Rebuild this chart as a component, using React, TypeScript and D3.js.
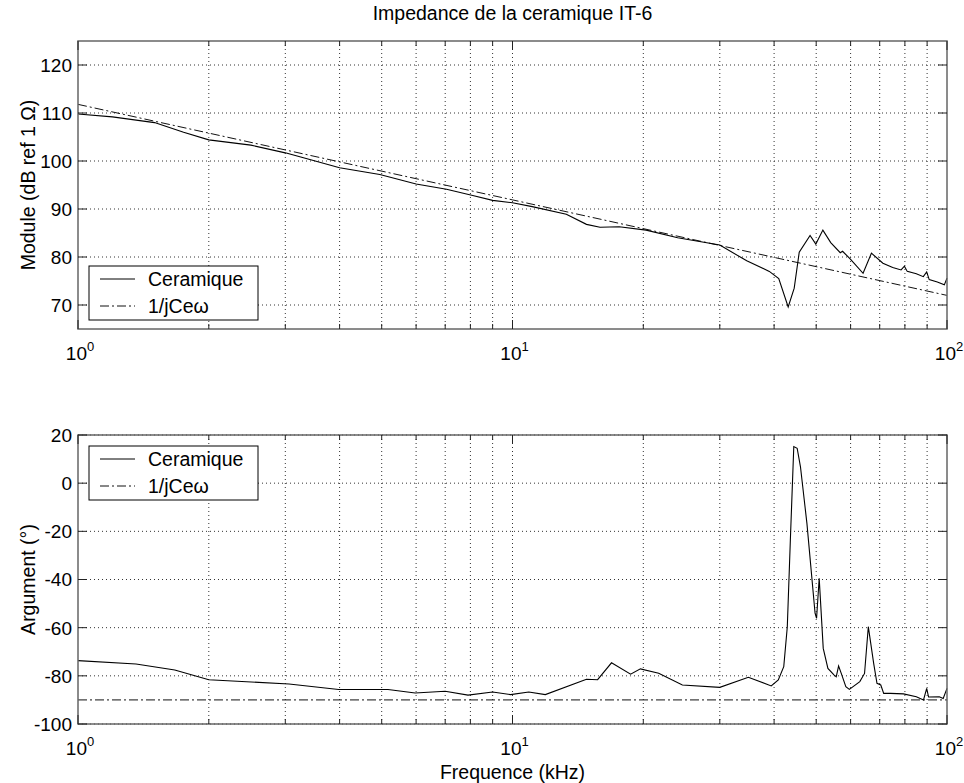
import React from "react";
import * as d3 from "d3";

// frequences (kHz) et module de la ceramique (dB ref 1 ohm)
const modFreq = [1.0, 1.2, 1.5, 1.75, 2.0, 2.5, 3.0, 3.24, 4.0, 4.95, 6.0, 7.05, 8.1, 9.0, 10.0, 11.1, 13.3, 14.8, 15.9, 17.6, 20.3, 24, 30, 34.6, 39.0, 41.0, 43.1, 44.5, 45.7, 48.4, 49.9, 51.8, 54, 56.8, 57.5, 60, 64.1, 67.0, 71.2, 75, 78.4, 79.8, 81, 85, 88.2, 89.8, 91, 95, 98.6, 100];
const modCeramique = [109.8, 109.2, 108.0, 106.0, 104.4, 103.3, 101.7, 100.9, 98.6, 97.2, 95.2, 94.1, 92.8, 91.8, 91.3, 90.5, 88.9, 86.8, 86.2, 86.3, 85.6, 84.0, 82.5, 79.2, 77.0, 75.5, 69.6, 73.5, 81.0, 84.5, 82.7, 85.6, 83.0, 80.9, 81.2, 79.5, 76.6, 80.8, 78.7, 77.8, 77.3, 78.1, 77.0, 76.5, 75.9, 76.9, 75.3, 74.8, 74.2, 75.6];

// argument de la ceramique (degres)
const argFreq = [1.0, 1.36, 1.67, 2.0, 3.06, 3.98, 5.17, 5.97, 7.0, 7.9, 9.0, 9.9, 10.9, 11.9, 14.8, 15.7, 16.9, 18.7, 19.7, 21.7, 24.6, 30.0, 34.9, 39.4, 40.9, 42.1, 42.9, 43.6, 44.4, 45.2, 46.0, 47.6, 49.7, 50.1, 50.8, 51.9, 53.2, 55.0, 55.6, 56.3, 57.1, 58.5, 59.6, 63.0, 64.6, 65.9, 67.8, 69.0, 70.4, 71.5, 74.1, 79.4, 85.0, 88.3, 89.8, 90.7, 96.0, 98.0, 100];
const argCeramique = [-73.7, -75.1, -77.6, -81.6, -83.4, -85.7, -85.7, -87.1, -86.4, -88.0, -86.7, -87.8, -86.7, -87.8, -81.4, -81.6, -74.6, -79.3, -77.1, -78.9, -83.8, -84.8, -80.6, -84.2, -81.7, -76.2, -59.6, -23.6, 15.2, 14.5, 6.8, -16.7, -54.0, -56.1, -39.5, -68.6, -76.9, -79.7, -80.4, -75.9, -79.0, -84.5, -85.6, -82.4, -79.0, -59.6, -74.8, -83.1, -83.8, -87.3, -87.3, -87.5, -88.7, -90.0, -85.2, -88.8, -88.7, -89.4, -85.2];

// modele capacitif 1/jCe.w
const ceFreq = [1, 10, 100];
const ceModule = [111.8, 91.9, 72.0];
const ceArgument = [-90, -90, -90];

const moduleTicks = [70, 80, 90, 100, 110, 120];
const argumentTicks = [-100, -80, -60, -40, -20, 0, 20];
const decadeTicks = [1, 10, 100];
const decadeLabels = ["0", "1", "2"];
const minorTicks = [2, 3, 4, 5, 6, 7, 8, 9, 20, 30, 40, 50, 60, 70, 80, 90];

const W = 964;
const H = 783;
const left = 78;
const right = 947;
const font = "Liberation Sans, Arial, sans-serif";

const x = d3.scaleLog().domain([1, 100]).range([left, right]);

type PanelProps = {
  top: number;
  bottom: number;
  domain: [number, number];
  yTicks: number[];
  ylabel: string;
  ceramX: number[];
  ceramY: number[];
  ceY: number[];
  legendTop: number;
};

const Panel = ({ top, bottom, domain, yTicks, ylabel, ceramX, ceramY, ceY, legendTop }: PanelProps) => {
  const y = d3.scaleLinear().domain(domain).range([bottom, top]);
  const line = d3
    .line<[number, number]>()
    .x((d) => x(d[0]))
    .y((d) => y(d[1]));
  const ceram = line(ceramX.map((f, i) => [f, ceramY[i]] as [number, number])) || "";
  const ce = line(ceFreq.map((f, i) => [f, ceY[i]] as [number, number])) || "";
  const grid = "#333";
  const tickCol = "#222";
  const lg = { x: 89, w: 169, h: 54 };

  return (
    <g>
      {/* grille */}
      {[...minorTicks, 10].map((f) => (
        <line key={"gx" + f} x1={x(f)} x2={x(f)} y1={top} y2={bottom} stroke={grid} strokeWidth={1} strokeDasharray="1,3" />
      ))}
      {yTicks.map((t) => (
        <line key={"gy" + t} x1={left} x2={right} y1={y(t)} y2={y(t)} stroke={grid} strokeWidth={1} strokeDasharray="1,3" />
      ))}

      {/* courbes */}
      <path d={ce} fill="none" stroke="#111" strokeWidth={1} strokeDasharray="9,3,2,3" />
      <path d={ceram} fill="none" stroke="#000" strokeWidth={1.1} />

      {/* cadre et graduations */}
      <rect x={left} y={top} width={right - left} height={bottom - top} fill="none" stroke="#666" strokeWidth={1.5} />
      {yTicks.map((t) => (
        <g key={"ty" + t}>
          <line x1={left} x2={left + 9} y1={y(t)} y2={y(t)} stroke={tickCol} />
          <line x1={right - 9} x2={right} y1={y(t)} y2={y(t)} stroke={tickCol} />
          <text x={left - 6} y={y(t)} dy="0.36em" textAnchor="end" fontSize={19} fontFamily={font}>
            {t}
          </text>
        </g>
      ))}
      {minorTicks.map((f) => (
        <g key={"tm" + f}>
          <line x1={x(f)} x2={x(f)} y1={bottom} y2={bottom - 5} stroke={tickCol} />
          <line x1={x(f)} x2={x(f)} y1={top} y2={top + 5} stroke={tickCol} />
        </g>
      ))}
      {decadeTicks.map((f, i) => (
        <g key={"td" + f}>
          <line x1={x(f)} x2={x(f)} y1={bottom} y2={bottom - 9} stroke={tickCol} />
          <line x1={x(f)} x2={x(f)} y1={top} y2={top + 9} stroke={tickCol} />
          <text x={x(f) + 2} y={bottom + 31} textAnchor="middle" fontSize={19} fontFamily={font}>
            10
            <tspan dy={-9} fontSize={13}>
              {decadeLabels[i]}
            </tspan>
          </text>
        </g>
      ))}

      <text
        transform={`translate(28,${(top + bottom) / 2}) rotate(-90)`}
        textAnchor="middle"
        dy="0.35em"
        fontSize={19.5}
        fontFamily={font}
      >
        {ylabel}
      </text>

      {/* legende */}
      <rect x={lg.x} y={legendTop} width={lg.w} height={lg.h} fill="#fff" stroke="#000" strokeWidth={1} />
      <line x1={100} x2={135} y1={legendTop + 13} y2={legendTop + 13} stroke="#000" />
      <line x1={100} x2={135} y1={legendTop + 40} y2={legendTop + 40} stroke="#111" strokeDasharray="9,3,2,3" />
      <text x={148} y={legendTop + 13} dy="0.36em" fontSize={19.5} fontFamily={font}>
        Ceramique
      </text>
      <text x={148} y={legendTop + 40} dy="0.36em" fontSize={19.5} fontFamily={font}>
        1/jCeω
      </text>
    </g>
  );
};

export default function App() {
  return (
    <svg width={W} height={H} style={{ position: "absolute", left: 0, top: 0, background: "#fff" }}>
      <rect x={0} y={0} width={W} height={H} fill="#fff" />
      <text x={(left + right) / 2} y={20} textAnchor="middle" fontSize={19.5} fontFamily={font}>
        Impedance de la ceramique IT-6
      </text>
      <Panel
        top={41}
        bottom={329}
        domain={[65, 125]}
        yTicks={moduleTicks}
        ylabel="Module (dB ref 1 Ω)"
        ceramX={modFreq}
        ceramY={modCeramique}
        ceY={ceModule}
        legendTop={266}
      />
      <Panel
        top={435}
        bottom={724}
        domain={[-100, 20]}
        yTicks={argumentTicks}
        ylabel="Argument (°)"
        ceramX={argFreq}
        ceramY={argCeramique}
        ceY={ceArgument}
        legendTop={446}
      />
      <text x={(left + right) / 2} y={779} textAnchor="middle" fontSize={19.5} fontFamily={font}>
        Frequence (kHz)
      </text>
    </svg>
  );
}
